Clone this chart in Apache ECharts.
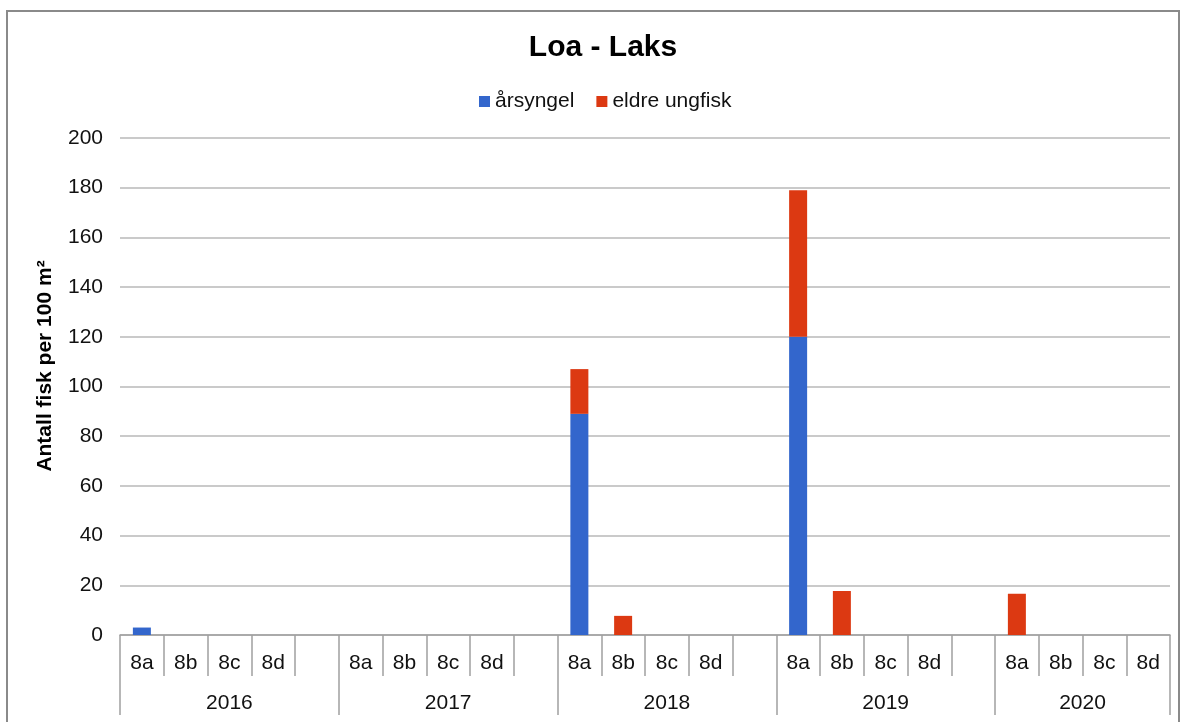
<!DOCTYPE html>
<html>
<head>
<meta charset="utf-8">
<script src="https://cdn.jsdelivr.net/npm/echarts@6/dist/echarts.min.js"></script>
<style>
  html, body { margin: 0; padding: 0; background: #fff; }
  #chart { width: 1184px; height: 722px; }
</style>
</head>
<body>
<div id="chart"></div>
<script>
// Stations sampled each year (2020 has no trailing spacer slot)
const years = ['2016', '2017', '2018', '2019', '2020'];
const stations = ['8a', '8b', '8c', '8d'];
const slotsPerYear = [5, 5, 5, 5, 4];

// Density (fish per 100 m²), one entry per slot; null = nothing caught
const arsyngel = [3, null, null, null, null,
                  null, null, null, null, null,
                  89, null, null, null, null,
                  120, null, null, null, null,
                  null, null, null, null];
const eldreUngfisk = [null, null, null, null, null,
                      null, null, null, null, null,
                      18, 7.7, null, null, null,
                      59, 17.7, null, null, null,
                      16.6, null, null, null];

const yTicks = { min: 0, max: 200, interval: 20 };

// Build the inner (station) axis categories
const slotLabels = [];
slotsPerYear.forEach(n => {
  for (let i = 0; i < n; i++) slotLabels.push(i < stations.length ? stations[i] : '');
});
const totalSlots = slotLabels.length;

// Outer (year) axis: half-slot points, labels in the middle of each year span
const halfPoints = [];
for (let i = 0; i <= totalSlots * 2; i++) halfPoints.push('');
const yearBounds = [0];
let acc = 0;
slotsPerYear.forEach((n, k) => {
  const start = acc * 2;
  acc += n;
  const end = acc * 2;
  halfPoints[(start + end) / 2] = years[k];
  yearBounds.push(end);
});

const chart = echarts.init(document.getElementById('chart'));
const font = 'Liberation Sans, Arial, sans-serif';
const axisGrey = '#a0a0a0';

chart.setOption({
  animation: false,
  backgroundColor: '#fff',
  textStyle: { fontFamily: font },
  title: {
    text: 'Loa - Laks',
    left: 598, top: 28, textAlign: 'center',
    textStyle: { fontSize: 30, fontWeight: 'bold', color: '#000', fontFamily: font }
  },
  legend: {
    top: 86, left: 474,
    icon: 'rect', itemWidth: 11, itemHeight: 11, itemGap: 22,
    textStyle: { fontSize: 21, color: '#111', fontFamily: font },
    data: ['årsyngel', 'eldre ungfisk']
  },
  graphic: [
    {
      type: 'rect',
      shape: { x: 7, y: 11, width: 1172, height: 730 },
      style: { fill: 'none', stroke: '#8a8a8a', lineWidth: 2 },
      silent: true
    },
    {
      type: 'text',
      x: 45, y: 366, rotation: Math.PI / 2,
      style: {
        text: 'Antall fisk per 100 m²',
        fontSize: 21, fontWeight: 'bold', fill: '#000', fontFamily: font,
        textAlign: 'center', textVerticalAlign: 'middle'
      }
    }
  ],
  grid: { left: 120, right: 14, top: 138, bottom: 87 },
  xAxis: [
    {
      type: 'category',
      data: slotLabels,
      boundaryGap: true,
      axisLine: { lineStyle: { color: axisGrey, width: 1.5 } },
      axisTick: { show: true, interval: 0, length: 41, lineStyle: { color: axisGrey, width: 1.5 } },
      axisLabel: { interval: 0, margin: 18, fontSize: 21, color: '#111', fontFamily: font },
      splitLine: { show: false }
    },
    {
      type: 'category',
      data: halfPoints,
      boundaryGap: false,
      position: 'bottom',
      axisLine: { show: false },
      axisTick: {
        show: true, length: 80,
        interval: (idx) => yearBounds.indexOf(idx) >= 0,
        lineStyle: { color: axisGrey, width: 1.5 }
      },
      axisLabel: {
        margin: 58, fontSize: 21, color: '#111', fontFamily: font,
        interval: (idx, val) => val !== ''
      },
      splitLine: { show: false }
    }
  ],
  yAxis: {
    type: 'value',
    min: yTicks.min, max: yTicks.max, interval: yTicks.interval,
    axisLine: { show: false },
    axisTick: { show: false },
    axisLabel: { fontSize: 21, color: '#111', margin: 17, fontFamily: font },
    splitLine: { lineStyle: { color: '#b8b8b8', width: 1.5 } }
  },
  series: [
    {
      name: 'årsyngel', type: 'bar', stack: 'tot', xAxisIndex: 0,
      data: arsyngel, barWidth: 18,
      itemStyle: { color: '#3366cc' }
    },
    {
      name: 'eldre ungfisk', type: 'bar', stack: 'tot', xAxisIndex: 0,
      data: eldreUngfisk, barWidth: 18,
      itemStyle: { color: '#dc3912' }
    }
  ]
});
</script>
</body>
</html>
